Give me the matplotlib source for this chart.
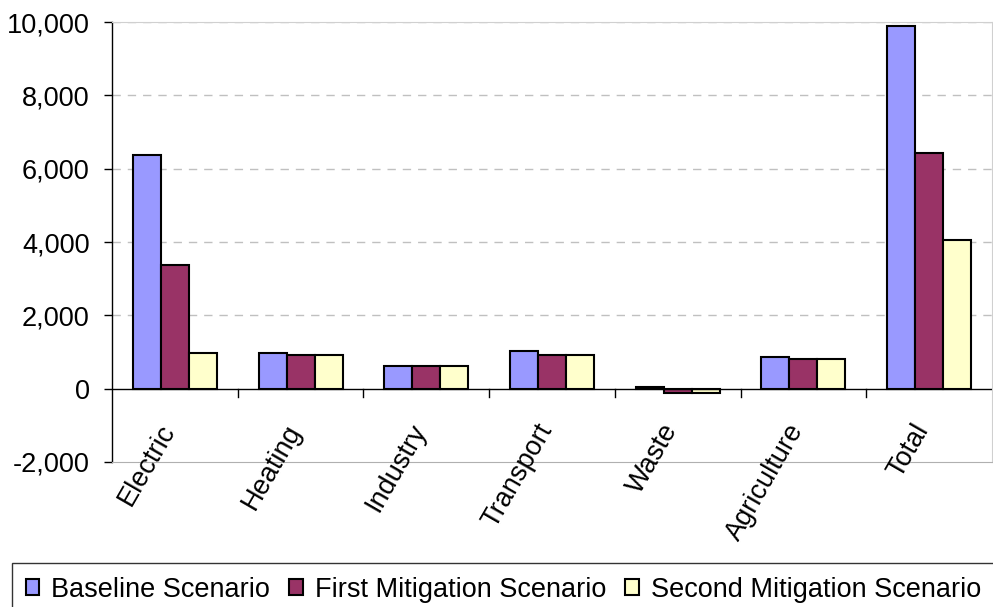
import numpy as np
import matplotlib.pyplot as plt

plt.rcParams['font.family'] = ['Liberation Sans', 'DejaVu Sans']

# emissions by sector under each scenario
sectors = ['Electric', 'Heating', 'Industry', 'Transport', 'Waste', 'Agriculture', 'Total']
baseline = [6380, 970, 620, 1030, 40, 850, 9890]
first_mitigation = [3360, 910, 620, 910, -130, 800, 6430]
second_mitigation = [965, 910, 620, 910, -130, 800, 4045]

series_names = ['Baseline Scenario', 'First Mitigation Scenario', 'Second Mitigation Scenario']
colors = ['#9999ff', '#993366', '#ffffcc']
fs = 19.5

fig = plt.figure(figsize=(9.93, 6.07), dpi=100)
ax = fig.add_axes([112 / 993, 1 - 462 / 607, 880 / 993, 440 / 607])

x = np.arange(len(sectors))
w = 0.223
handles = []
for i, (vals, c) in enumerate(zip([baseline, first_mitigation, second_mitigation], colors)):
    b = ax.bar(x + (i - 1) * w, vals, w, color=c, edgecolor='black', linewidth=1.5,
               label=series_names[i], zorder=3)
    handles.append(b)

ax.set_xlim(-0.5, len(sectors) - 0.5)
ax.set_ylim(-2000, 10000)
ax.set_yticks(range(-2000, 10001, 2000))
ax.set_yticklabels([f'{v:,}' for v in range(-2000, 10001, 2000)], fontsize=fs)
ax.tick_params(axis='y', length=6, width=1, direction='out', pad=10)

# dashed grid above zero only
for v in range(2000, 10001, 2000):
    ax.axhline(v, color='#c0c0c0', linestyle=(0, (6, 5)), linewidth=1, zorder=1)

# zero line with ticks between categories
ax.axhline(0, color='black', linewidth=1, zorder=4)
for b in np.arange(0.5, len(sectors) - 1, 1):
    ax.plot([b, b], [0, -230], color='black', linewidth=1, zorder=4, clip_on=False)

ax.set_xticks([])
for xi, name in zip(x, sectors):
    ax.text(xi - 0.135, -840, name, rotation=60, ha='right', va='top', fontsize=fs,
            rotation_mode='anchor', zorder=6)

ax.spines['bottom'].set_color('#b0b0b0')
ax.spines['top'].set_color('#d0d0d0')
ax.spines['right'].set_color('#d0d0d0')
ax.spines['left'].set_linewidth(1)

leg = fig.legend(handles=handles, loc='upper left', ncol=3,
                 bbox_to_anchor=(12 / 993, 1 - 563 / 607), borderaxespad=0,
                 fontsize=fs, frameon=True, fancybox=False, edgecolor='black',
                 handlelength=0.5, handleheight=0.5, handletextpad=0.45, columnspacing=0.7,
                 borderpad=0.5)
leg.get_frame().set_linewidth(1)

fig.savefig('out.png', dpi=100)
